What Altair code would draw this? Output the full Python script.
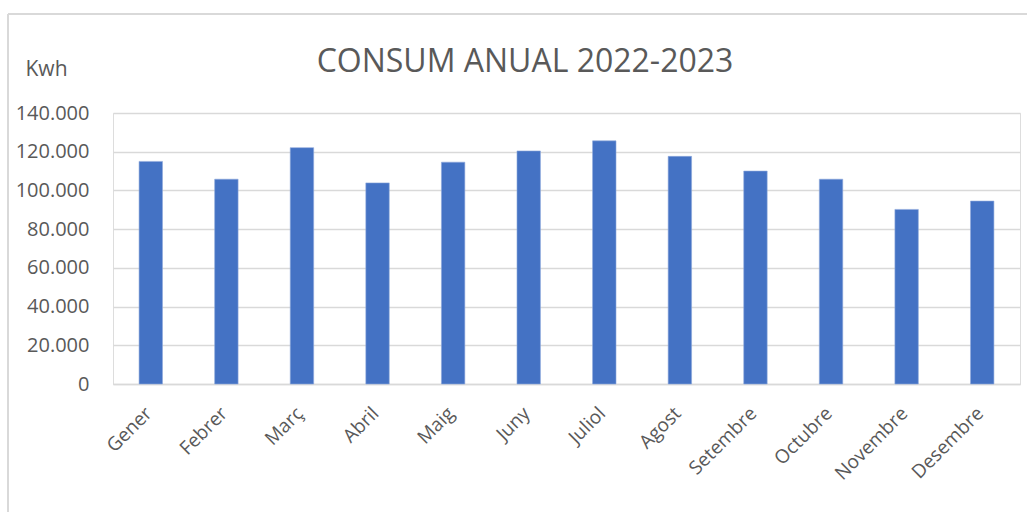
import altair as alt
import pandas as pd

months = ["Gener", "Febrer", "Març", "Abril", "Maig", "Juny", "Juliol",
          "Agost", "Setembre", "Octubre", "Novembre", "Desembre"]
kwh = [115000, 105800, 122100, 103900, 114600, 120400, 125600,
       117600, 110000, 105800, 90200, 94500]
title_text = ["CONSUM ANUAL 2022-2023"]

df = pd.DataFrame({"mes": months, "kwh": kwh})
tdf = pd.DataFrame({"t": title_text})

FONT = "Open Sans"
GREY = "#595959"

bars = alt.Chart(df).mark_bar(color="#4472C4", stroke="#8FAADC", strokeWidth=0.6).encode(
    x=alt.X("mes:N", sort=months,
            scale=alt.Scale(paddingInner=0.69, paddingOuter=0.345),
            axis=alt.Axis(title=None, labelAngle=-45, labelAlign="right",
                          labelBaseline="middle", labelPadding=26,
                          labelFont=FONT, labelFontSize=19, labelColor=GREY,
                          ticks=False, domainColor="#D9D9D9", domainWidth=1.5,
                          labelOffset=-2)),
    y=alt.Y("kwh:Q", scale=alt.Scale(domain=[0, 140000], nice=False),
            axis=alt.Axis(title="Kwh", titleAngle=0, titleX=-88, titleY=-38,
                          titleAlign="left", titleBaseline="alphabetic",
                          titleFont=FONT, titleFontSize=21, titleFontWeight="normal",
                          titleColor=GREY,
                          values=[0, 20000, 40000, 60000, 80000, 100000, 120000, 140000],
                          format=",d", labelFont=FONT, labelFontSize=20,
                          labelColor=GREY, labelPadding=24, ticks=False,
                          domain=False, gridColor="#D9D9D9", gridWidth=1.5)),
)

title = alt.Chart(tdf).mark_text(font=FONT, fontSize=32, color=GREY,
                                 align="center", baseline="alphabetic").encode(
    text="t:N", x=alt.value(412), y=alt.value(-41))

frame_left = alt.Chart(df).mark_rule(color="#D9D9D9", strokeWidth=1.5).encode(
    x=alt.value(-105), y=alt.value(-99), y2=alt.value(400))
frame_top = alt.Chart(df).mark_rule(color="#D9D9D9", strokeWidth=1.5).encode(
    x=alt.value(-105), x2=alt.value(915), y=alt.value(-99))

chart = alt.layer(frame_left, frame_top, bars, title).properties(
    width=907, height=271,
    padding={"left": 113, "top": 113, "right": 7, "bottom": 128},
    autosize=alt.AutoSizeParams(type="none"),
).configure_view(stroke=None).configure(
    locale={"number": {"decimal": ",", "thousands": ".", "grouping": [3],
                       "currency": ["", " €"]}}
)

chart.save("out.html", embed_options={"renderer": "svg", "actions": False})
